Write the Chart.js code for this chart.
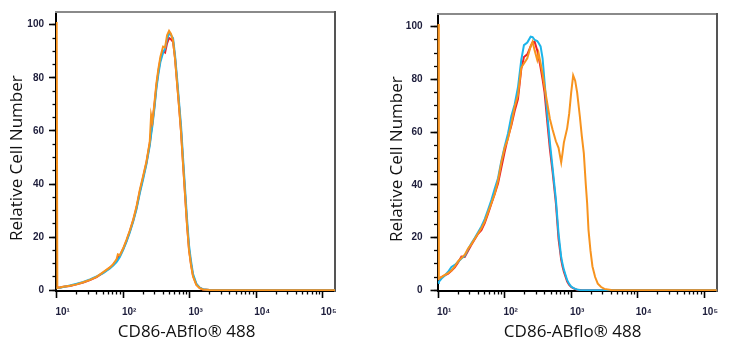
<!DOCTYPE html>
<html><head><meta charset="utf-8">
<script src="https://cdn.jsdelivr.net/npm/chart.js@4.4.1/dist/chart.umd.min.js"></script>
<style>
html,body{margin:0;padding:0;background:#fff;}
#w{position:relative;width:729px;height:350px;overflow:hidden;background:#fff;}
#c1{position:absolute;left:0;top:0;}
#c2{position:absolute;left:364px;top:0;}
</style></head><body>
<div id="w"><canvas id="c1" width="364" height="350"></canvas><canvas id="c2" width="365" height="350"></canvas></div>
<script>
// ---- tick labels / titles ----
const xTickValues = [10, 100, 1000, 10000, 100000];
const xTickLabels = ['10¹', '10²', '10³', '10⁴', '10⁵'];
const yTickValues = [0, 20, 40, 60, 80, 100];
const yMinorValues = [0,5,10,15,20,25,30,35,40,45,50,55,60,65,70,75,80,85,90,95,100];
const xMinorValues = [20,30,40,50,60,70,80,90,200,300,400,500,600,700,800,900,
                      2000,3000,4000,5000,6000,7000,8000,9000,20000,30000,40000,50000,60000,70000,80000,90000];
const xTitle = 'CD86-ABflo® 488';
const yTitle = 'Relative Cell Number';

// ---- left panel (log10 of fluorescence) ----
const leftLogX = [1.0,1.01,1.05,1.1,1.2,1.3,1.4,1.5,1.6,1.7,
  1.8,1.85,1.9,1.92,1.95,2.0,2.05,2.1,2.15,2.2,
  2.25,2.3,2.35,2.4,2.42,2.44,2.47,2.5,2.53,2.56,
  2.6,2.63,2.66,2.69,2.72,2.75,2.78,2.81,2.84,2.87,
  2.9,2.93,2.96,2.99,3.02,3.05,3.1,3.15,3.2,3.3,
  3.5,4.0,4.5,5.0,5.19];
const leftOrange = [101,0.8,1.0,1.3,1.7,2.2,3.0,3.9,5.0,6.8,
  8.6,9.8,11.6,13.5,13.2,15.8,19.0,22.5,26.5,31.5,
  37.8,43.0,48.5,56.0,66.0,63.5,70.5,78.0,83.5,88.0,
  91.8,91.5,96.0,97.7,96.5,94.0,87.0,78.0,69.0,59.5,
  47.5,36.0,24.5,15.0,9.5,5.2,2.0,0.8,0.3,0.1,
  0,0,0,0,0];
const leftBlue = [0.8,0.8,0.9,1.2,1.8,2.4,3.1,4.1,5.2,6.4,
  8.2,9.3,10.6,11.3,12.5,15.2,18.3,21.8,25.8,30.5,
  36.5,41.8,47.5,54.5,58.5,62.0,68.5,76.0,81.5,86.0,
  89.5,91.0,94.5,96.8,96.0,95.0,88.5,80.0,71.0,62.0,
  50.0,38.5,27.0,17.0,11.0,6.2,2.5,1.0,0.4,0.1,
  0,0,0,0,0];
const leftRed = [1.0,1.0,1.0,1.3,1.6,2.2,2.9,3.8,4.9,6.6,
  8.5,9.6,11.2,12.0,13.0,15.5,18.6,22.2,26.2,31.0,
  37.2,42.5,48.0,55.3,59.5,63.0,69.5,77.0,82.5,87.0,
  90.0,89.5,93.0,95.0,94.5,93.5,87.5,78.5,69.5,60.0,
  48.0,36.5,25.0,15.5,9.8,5.5,2.2,0.9,0.3,0.1,
  0,0,0,0,0];

// ---- right panel ----
const rightLogX = [1.0,1.01,1.05,1.1,1.15,1.2,1.25,1.3,1.35,1.4,
  1.45,1.5,1.55,1.6,1.65,1.7,1.75,1.8,1.85,1.9,
  1.95,2.0,2.05,2.1,2.15,2.2,2.25,2.29,2.34,2.39,
  2.42,2.45,2.49,2.51,2.54,2.57,2.6,2.64,2.68,2.72,
  2.77,2.81,2.85,2.87,2.89,2.94,2.97,3.0,3.03,3.06,
  3.09,3.13,3.16,3.19,3.22,3.24,3.26,3.29,3.32,3.36,
  3.4,3.45,3.5,3.6,3.8,4.2,4.6,5.0,5.2];
const rightOrange = [101,4.3,5.0,5.8,6.5,7.5,9.0,11.0,12.2,13.5,
  15.8,17.5,19.5,21.5,23.5,26.0,29.5,33.0,36.5,41.5,
  48.5,54.0,57.5,63.0,69.5,74.0,84.5,86.0,88.0,92.5,
  94.3,91.0,87.4,89.9,86.1,82.0,77.0,71.0,65.0,61.0,
  56.5,54.0,48.5,52.0,56.0,61.5,67.0,75.0,81.5,79.5,
  75.0,66.0,58.5,52.0,40.0,33.0,23.0,15.0,9.0,5.0,
  2.5,1.2,0.5,0.1,0,0,0,0,0];
const rightBlue = [2.7,3.2,4.4,5.6,7.0,8.8,9.6,10.8,12.0,13.0,
  15.6,17.8,19.8,22.0,24.2,27.0,30.5,34.2,38.5,42.5,
  49.0,54.5,59.5,66.0,70.5,77.0,87.5,93.0,94.0,96.2,
  96.0,95.0,94.5,93.8,92.5,88.0,79.0,67.0,56.0,46.5,
  34.5,21.5,12.5,10.0,7.8,3.8,2.4,1.4,0.9,0.5,
  0.3,0.1,0,0,0,0,0,0,0,0,
  0,0,0,0,0,0,0,0,0];
const rightRed = [4.2,4.4,5.0,5.6,6.3,7.4,8.7,10.5,12.8,12.6,
  15.0,17.2,19.3,21.4,22.8,25.5,29.0,32.8,36.5,40.5,
  46.5,52.5,58.0,62.5,68.0,72.5,84.0,88.5,89.5,92.5,
  94.0,94.3,91.0,88.5,84.5,80.0,75.0,64.0,53.5,45.0,
  33.0,19.5,11.5,9.0,7.0,3.3,2.0,1.2,0.8,0.4,
  0.2,0.1,0,0,0,0,0,0,0,0,
  0,0,0,0,0,0,0,0,0];

const COLORS = {red:'#ec2227', blue:'#1cb5ea', orange:'#f7931e'};
const tickFont = {family:'"Liberation Sans", Arial, sans-serif', size:10, weight:'bold'};
const titleFont = {family:'"Open Sans", sans-serif', size:17};
const tickTextColor = '#1d1d3b';

function build(id, logX, red, blue, orange, g) {
  const pts = arr => logX.map((e, i) => ({x: Math.pow(10, e), y: arr[i]}));
  const xmin = Math.pow(10, g.xMinExp), xmax = Math.pow(10, g.xMaxExp);
  const ds = (arr, col, ord) => ({data: pts(arr), borderColor: col, backgroundColor: col, borderWidth: 2,
      pointRadius: 0, tension: 0, fill: false, order: ord, xAxisID: 'x', yAxisID: 'y'});
  new Chart(document.getElementById(id), {
    type: 'line',
    data: {datasets: [ds(orange, COLORS.orange, 0), ds(blue, COLORS.blue, 1), ds(red, COLORS.red, 2)]},
    options: {
      responsive: false, animation: false, devicePixelRatio: 1,
      layout: {padding: {left: g.padL, right: g.padR, top: g.padT, bottom: 0}},
      plugins: {legend: {display: false}, tooltip: {enabled: false}},
      scales: {
        x: {type: 'logarithmic', position: 'bottom', weight: 1, min: xmin, max: xmax,
          afterBuildTicks: s => { s.ticks = xTickValues.map(v => ({value: v, major: true})); },
          afterFit: s => { s.height = g.xAxisH; },
          ticks: {autoSkip: false, maxRotation: 0, minRotation: 0, padding: g.xTickPad, labelOffset: 6,
            color: tickTextColor, font: tickFont,
            callback: v => { const i = xTickValues.indexOf(v); return i >= 0 ? xTickLabels[i] : ''; }},
          grid: {display: true, drawOnChartArea: false, tickLength: 7, tickWidth: 1.6, tickColor: '#000', color: '#000'},
          border: {display: true, color: '#000', width: 2},
          title: {display: true, text: xTitle + g.xTitleTail, color: '#111', font: titleFont, padding: {top: 0, bottom: g.xTitlePad}}
        },
        xMinor: {type: 'logarithmic', position: 'bottom', weight: 0, min: xmin, max: xmax,
          afterBuildTicks: s => { s.ticks = xMinorValues.map(v => ({value: v})); },
          afterFit: s => { s.height = 0; },
          ticks: {display: false},
          grid: {display: true, drawOnChartArea: false, tickLength: 3.5, tickWidth: 1.3, tickColor: '#000', color: '#000'},
          border: {display: false}
        },
        y: {type: 'linear', position: 'left', weight: 1, min: g.yMin, max: g.yMax,
          afterBuildTicks: s => { s.ticks = yTickValues.map(v => ({value: v})); },
          afterFit: s => { s.width = g.yAxisW; },
          ticks: {padding: g.yTickPad, color: tickTextColor, font: tickFont},
          grid: {display: true, drawOnChartArea: false, tickLength: 7, tickWidth: 1.6, tickColor: '#000', color: '#000'},
          border: {display: true, color: '#000', width: 2},
          title: {display: true, text: yTitle + '   ', color: '#111', font: titleFont, padding: {top: g.yTitlePad, bottom: 0}}
        },
        yMinor: {type: 'linear', position: 'left', weight: 0, min: g.yMin, max: g.yMax,
          afterBuildTicks: s => { s.ticks = yMinorValues.map(v => ({value: v})); },
          afterFit: s => { s.width = 0; },
          ticks: {display: false},
          grid: {display: true, drawOnChartArea: false, tickLength: 3.5, tickWidth: 1.3, tickColor: '#000', color: '#000'},
          border: {display: false}
        },
        xTop: {type: 'linear', position: 'top', afterFit: s => { s.height = 0; },
          ticks: {display: false}, grid: {display: false}, border: {display: true, color: '#8a8a8a', width: 2}},
        yRight: {type: 'linear', position: 'right', afterFit: s => { s.width = 0; },
          ticks: {display: false}, grid: {display: false}, border: {display: true, color: '#555', width: 2}}
      }
    }
  });
}

build('c1', leftLogX, leftRed, leftBlue, leftOrange,
  {xMinExp: 0.99, xMaxExp: 5.185, yMin: -0.3, yMax: 104.8, padL: 0, padR: 29, padT: 12,
   yAxisW: 56, xAxisH: 59, yTickPad: 5, xTickPad: 8.5, yTitlePad: 7, xTitlePad: 7.3, xTitleTail: '    '});
build('c2', rightLogX, rightRed, rightBlue, rightOrange,
  {xMinExp: 0.99, xMaxExp: 5.188, yMin: -0.3, yMax: 104.8, padL: 16, padR: 12.3, padT: 12,
   yAxisW: 57.5, xAxisH: 59, yTickPad: 8, xTickPad: 8.5, yTitlePad: 7, xTitlePad: 7.3, xTitleTail: '  '});
</script>
</body></html>
